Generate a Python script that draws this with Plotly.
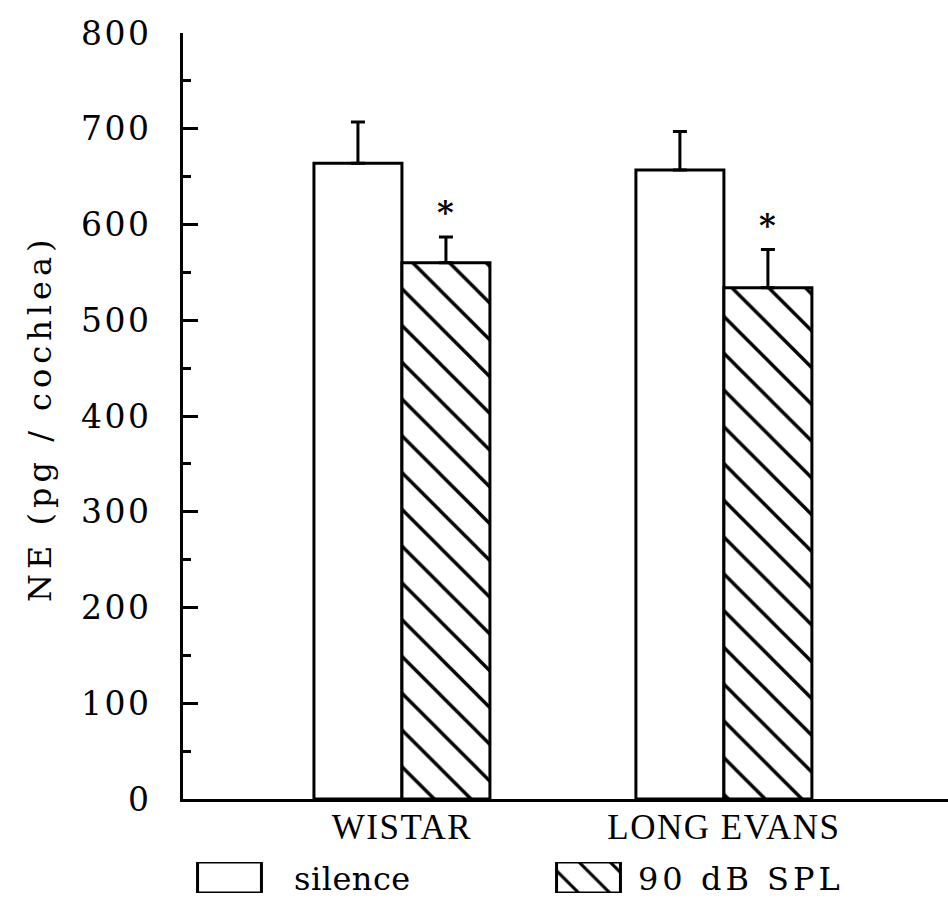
import plotly.graph_objects as go

# Cochlear norepinephrine content (mean + SEM) by strain and exposure
strains = ["WISTAR", "LONG EVANS"]
silence_mean = [664, 657]
silence_sem = [43, 40]
noise_mean = [560, 534]
noise_sem = [27, 40]
significant = [True, True]
y_ticks = [0, 100, 200, 300, 400, 500, 600, 700, 800]
legend_labels = ["silence", "90 dB SPL"]
y_title = "NE (pg / cochlea)"

W, H = 948, 917
SERIF = "DejaVu Serif, Liberation Serif, serif"
CAPS = "Liberation Serif, serif"

bargap = 0.4534
half_slot = (1 - bargap) / 2  # width of one bar in a group


def spaced(text, px):
    return f'<span style="letter-spacing:{px}px">{text}</span>'


fig = go.Figure()

fig.add_trace(go.Bar(
    x=strains, y=silence_mean, name=legend_labels[0],
    marker=dict(color="white", line=dict(color="black", width=3)),
    error_y=dict(type="data", array=silence_sem, arrayminus=[0] * len(strains),
                 symmetric=False, color="black", thickness=3, width=7),
    showlegend=False,
))
fig.add_trace(go.Bar(
    x=strains, y=noise_mean, name=legend_labels[1],
    marker=dict(color="white", line=dict(color="black", width=3),
                pattern=dict(shape="\\", fgcolor="black", bgcolor="white",
                             size=26, solidity=0.13, fillmode="replace")),
    error_y=dict(type="data", array=noise_sem, arrayminus=[0] * len(strains),
                 symmetric=False, color="black", thickness=3, width=7),
    showlegend=False,
))

# Key swatches drawn on their own small axis pair
fig.add_trace(go.Bar(
    x=[0, 1], y=[1, 1], width=0.178, xaxis="x2", yaxis="y2",
    marker=dict(color="white", line=dict(color="black", width=3),
                pattern=dict(shape=["", "\\"], fgcolor="black", bgcolor="white",
                             size=22, solidity=0.14, fillmode="replace")),
    showlegend=False, hoverinfo="skip",
))

annotations = []
# significance markers above the noise-exposed bars
for i, sig in enumerate(significant):
    if sig:
        annotations.append(dict(
            x=i + half_slot / 2, y=noise_mean[i] + noise_sem[i] + 4,
            xref="x", yref="y", text="<b>*</b>", showarrow=False,
            font=dict(family=SERIF, size=32, color="black"),
            xanchor="center", yanchor="bottom",
        ))

# y-axis title
annotations.append(dict(
    x=40 / W, y=(H - 418) / H, xref="paper", yref="paper",
    text=spaced(y_title, 5), textangle=-90, showarrow=False,
    font=dict(family=SERIF, size=32, color="black"),
    xanchor="center", yanchor="middle",
))

# key labels
annotations.append(dict(
    x=292 / W, y=(H - 879) / H, xref="paper", yref="paper",
    text=spaced(legend_labels[0], 0.5), showarrow=False,
    font=dict(family=SERIF, size=32, color="black"),
    xanchor="left", yanchor="middle",
))
annotations.append(dict(
    x=636 / W, y=(H - 879) / H, xref="paper", yref="paper",
    text=spaced(legend_labels[1], 4), showarrow=False,
    font=dict(family=SERIF, size=32, color="black"),
    xanchor="left", yanchor="middle",
))

fig.update_layout(
    width=W, height=H,
    margin=dict(l=0, r=0, t=0, b=0, autoexpand=False),
    paper_bgcolor="white", plot_bgcolor="white",
    barmode="group", bargap=bargap, bargroupgap=0,
    xaxis=dict(
        domain=[183 / W, 1.0], type="category", range=[-0.680, 1.696],
        showline=True, linewidth=3, linecolor="black",
        ticks="", showgrid=False, zeroline=False,
        tickvals=strains, ticktext=[spaced(s, 1.5) for s in strains],
        tickfont=dict(family=CAPS, size=35, color="black"),
        ticklabelstandoff=-5, automargin=False,
    ),
    yaxis=dict(
        domain=[(H - 799) / H, (H - 33) / H], range=[0, 800],
        showline=True, linewidth=3, linecolor="black",
        ticks="inside", ticklen=15, tickwidth=3, tickcolor="black",
        tickvals=y_ticks, ticktext=[spaced(str(v), 2.5) for v in y_ticks],
        showgrid=False, zeroline=False,
        minor=dict(ticks="inside", ticklen=8, tickwidth=3, tickcolor="black",
                   dtick=50, tick0=0, showgrid=False),
        tickfont=dict(family=SERIF, size=33, color="black"),
        ticklabelstandoff=22, automargin=False,
    ),
    xaxis2=dict(domain=[50 / W, 768 / W], range=[-0.5, 1.5], visible=False,
                anchor="y2", fixedrange=True),
    yaxis2=dict(domain=[(H - 893) / H, (H - 862) / H], range=[0, 1],
                visible=False, anchor="x2", fixedrange=True),
    annotations=annotations,
)

fig.write_html("out.html")
